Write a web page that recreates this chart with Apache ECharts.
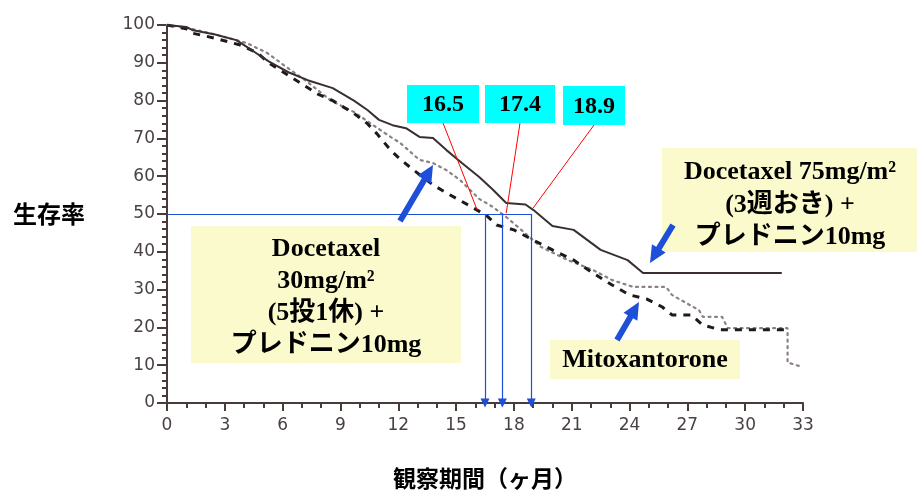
<!DOCTYPE html>
<html>
<head>
<meta charset="utf-8">
<script src="https://cdn.jsdelivr.net/npm/echarts@6/dist/echarts.min.js"></script>
<style>html,body{margin:0;padding:0;background:#fff;}#c{width:917px;height:491px;}</style>
</head>
<body>
<div id="c"></div>
<script>
// Docetaxel 75mg/m2 q3w (solid)
const q3wMonths = [0, 1.0, 1.35, 2.5, 3.6, 4.5, 5.3, 6.3, 7.3, 8.6, 9.7, 10.4, 11.0, 11.7, 12.4, 13.1, 13.8, 14.5, 15.3, 16.2, 16.9, 17.6, 18.6, 19.0, 20.0, 21.1, 22.5, 23.9, 24.7, 31.9];
const q3wSurv   = [100, 99.5, 98.6, 97.5, 96.0, 93.0, 90.3, 87.5, 85.4, 83.3, 80.0, 77.5, 74.9, 73.5, 72.7, 70.4, 70.1, 66.9, 63.5, 59.8, 56.5, 52.9, 52.5, 51.1, 46.8, 45.8, 40.5, 37.8, 34.4, 34.4];
// Docetaxel 30mg/m2 weekly (dotted)
const weeklyMonths = [0, 1.0, 2.5, 4.15, 5.2, 6.3, 7.3, 8.5, 9.7, 10.7, 11.6, 12.1, 13.1, 13.8, 14.5, 15.2, 16.2, 16.9, 17.6, 18.2, 19.4, 20.8, 22.1, 23.1, 24.2, 25.9, 26.2, 27.1, 27.6, 27.8, 28.8, 29.1, 32.2, 32.2, 33.0];
const weeklySurv   = [100, 99.3, 97.5, 95.2, 92.6, 88.5, 84.9, 80.0, 77.0, 73.5, 70.4, 68.8, 64.3, 63.5, 61.6, 59.0, 54.0, 51.9, 49.2, 46.6, 41.3, 37.8, 35.2, 32.5, 30.7, 30.7, 28.6, 26.0, 24.6, 22.8, 22.8, 19.8, 19.8, 10.7, 9.5];
// Mitoxantrone (dashed)
const mitoMonths = [0, 1.0, 1.35, 2.5, 3.8, 4.7, 5.3, 6.5, 7.8, 8.6, 9.7, 10.4, 10.9, 11.6, 12.1, 12.8, 13.8, 14.6, 15.9, 16.6, 17.1, 18.0, 19.0, 20.0, 21.1, 22.1, 23.1, 24.0, 24.9, 25.7, 26.2, 27.2, 27.8, 28.7, 32.1];
const mitoSurv   = [100, 99.0, 97.8, 96.5, 94.7, 92.6, 89.9, 86.0, 81.8, 80.0, 76.6, 73.9, 71.2, 66.9, 64.5, 61.6, 57.7, 55.3, 51.6, 49.5, 47.1, 45.8, 43.1, 40.5, 37.8, 34.4, 31.2, 28.6, 27.5, 25.4, 23.3, 23.3, 20.6, 19.4, 19.4];

const medianMonths = [16.5, 17.4, 18.9];
const medianLabels = ['16.5', '17.4', '18.9'];
const medianTargets = [[16.1, 51.0], [17.6, 50.2], [19.0, 51.6]];

const label1 = 'Docetaxel\n30mg/m²\n(5投1休) +\nプレドニン10mg';
const label2 = 'Docetaxel 75mg/m²\n(3週おき) +\nプレドニン10mg';
const label3 = 'Mitoxantorone';

function pairs(xs, ys) { return xs.map((x, i) => [x, ys[i]]); }

const chart = echarts.init(document.getElementById('c'), null, {renderer: 'canvas'});
const axisColor = '#4a3b3b';
const blue = '#1d4fd8';
const serif = '"Liberation Serif","Noto Sans CJK JP",serif';

const option = {
  animation: false,
  grid: {left: 167, right: 114, top: 25, bottom: 88, containLabel: false, outerBoundsMode: 'none'},
  xAxis: {
    type: 'value', min: 0, max: 33, interval: 3,
    name: '観察期間（ヶ月）', nameLocation: 'middle', nameGap: 64,
    nameTextStyle: {fontFamily: '"Noto Sans CJK JP"', fontWeight: 'bold', fontSize: 23, color: '#000'},
    axisLine: {show: true, onZero: false, lineStyle: {color: axisColor, width: 2}},
    axisTick: {show: true, inside: false, length: 8, lineStyle: {color: axisColor, width: 2}},
    minorTick: {show: true, splitNumber: 3, length: 5, lineStyle: {color: axisColor, width: 2}},
    splitLine: {show: false},
    minorSplitLine: {show: false},
    axisLabel: {margin: 14, fontFamily: '"DejaVu Sans"', fontSize: 17, color: '#4a4242'}
  },
  yAxis: {
    type: 'value', min: 0, max: 100, interval: 10,
    name: '生存率', nameLocation: 'middle', nameGap: 82, nameRotate: 0,
    nameTextStyle: {fontFamily: '"Noto Sans CJK JP"', fontWeight: 'bold', fontSize: 24, color: '#000'},
    axisLine: {show: true, onZero: false, lineStyle: {color: axisColor, width: 2}},
    axisTick: {show: true, inside: false, length: 10, lineStyle: {color: axisColor, width: 2}},
    minorTick: {show: true, splitNumber: 5, length: 5, lineStyle: {color: axisColor, width: 2}},
    splitLine: {show: false},
    minorSplitLine: {show: false},
    axisLabel: {margin: 12, fontFamily: '"DejaVu Sans"', fontSize: 17, color: '#4a4242'}
  },
  series: [
    {
      name: 'Docetaxel 75mg/m2', type: 'line', data: pairs(q3wMonths, q3wSurv),
      showSymbol: false, silent: true, z: 5,
      lineStyle: {color: '#3a2f2f', width: 2},
      markLine: {
        silent: true, symbolSize: 9,
        label: {show: false},
        lineStyle: {color: blue, width: 1.2, type: 'solid'},
        data: [
          [{coord: [0, 50], symbol: 'none'}, {coord: [medianMonths[2], 50], symbol: 'none'}],
          ...medianMonths.map(m => [{coord: [m, 50], symbol: 'none'}, {coord: [m, 0], symbol: 'triangle', symbolRotate: 180}])
        ]
      }
    },
    {
      name: 'Docetaxel 30mg/m2', type: 'line', data: pairs(weeklyMonths, weeklySurv),
      showSymbol: false, silent: true, z: 4,
      lineStyle: {color: '#8a8282', width: 2.2, type: [2, 4.5], cap: 'round'}
    },
    {
      name: 'Mitoxantrone', type: 'line', data: pairs(mitoMonths, mitoSurv),
      showSymbol: false, silent: true, z: 4,
      lineStyle: {color: '#1e1a1a', width: 3, type: [7, 7]}
    }
  ]
};
chart.setOption(option);

function arrow(x1, y1, x2, y2) {
  const dx = x2 - x1, dy = y2 - y1, L = Math.hypot(dx, dy);
  const ux = dx / L, uy = dy / L, hl = 17, hw = 8;
  const bx = x2 - ux * hl, by = y2 - uy * hl;
  return [
    {type: 'line', shape: {x1: x1, y1: y1, x2: bx + ux * 2, y2: by + uy * 2}, style: {stroke: blue, lineWidth: 6}, z: 50},
    {type: 'polygon', shape: {points: [[x2, y2], [bx - uy * hw, by + ux * hw], [bx + uy * hw, by - ux * hw]]}, style: {fill: blue}, z: 50}
  ];
}

const cyanBoxes = [[407, 85, 72, 38], [485, 85, 70, 38], [563, 86, 62, 39]];
const g = [];
cyanBoxes.forEach((b, i) => {
  const tgt = chart.convertToPixel({gridIndex: 0}, medianTargets[i]);
  g.push({type: 'line', shape: {x1: b[0] + b[2] / 2, y1: b[1] + b[3], x2: tgt[0], y2: tgt[1]}, style: {stroke: '#ff0000', lineWidth: 1}, z: 40});
  g.push({type: 'rect', shape: {x: b[0], y: b[1], width: b[2], height: b[3]}, style: {fill: '#00ffff'}, z: 41});
  g.push({type: 'text', x: b[0] + b[2] / 2, y: b[1] + b[3] / 2 + 1, style: {text: medianLabels[i], fontFamily: serif, fontWeight: 'bold', fontSize: 24, fill: '#000', align: 'center', verticalAlign: 'middle'}, z: 42});
});
const yellow = '#fbfacc';
g.push({type: 'rect', shape: {x: 191, y: 226, width: 270, height: 137}, style: {fill: yellow}, z: 30});
g.push({type: 'text', x: 326, y: 297, style: {text: label1, fontFamily: serif, fontWeight: 'bold', fontSize: 26, lineHeight: 32, fill: '#000', align: 'center', verticalAlign: 'middle'}, z: 31});
g.push({type: 'rect', shape: {x: 662, y: 148, width: 255, height: 104}, style: {fill: yellow}, z: 30});
g.push({type: 'text', x: 790, y: 205, style: {text: label2, fontFamily: serif, fontWeight: 'bold', fontSize: 26, lineHeight: 32.5, fill: '#000', align: 'center', verticalAlign: 'middle'}, z: 31});
g.push({type: 'rect', shape: {x: 550, y: 340, width: 190, height: 39}, style: {fill: yellow}, z: 30});
g.push({type: 'text', x: 645, y: 360, style: {text: label3, fontFamily: serif, fontWeight: 'bold', fontSize: 26, fill: '#000', align: 'center', verticalAlign: 'middle'}, z: 31});
g.push(...arrow(400, 221, 433, 165));
g.push(...arrow(673, 225, 650, 263));
g.push(...arrow(617, 340, 639, 302));
chart.setOption({graphic: {elements: g}});
</script>
</body>
</html>
